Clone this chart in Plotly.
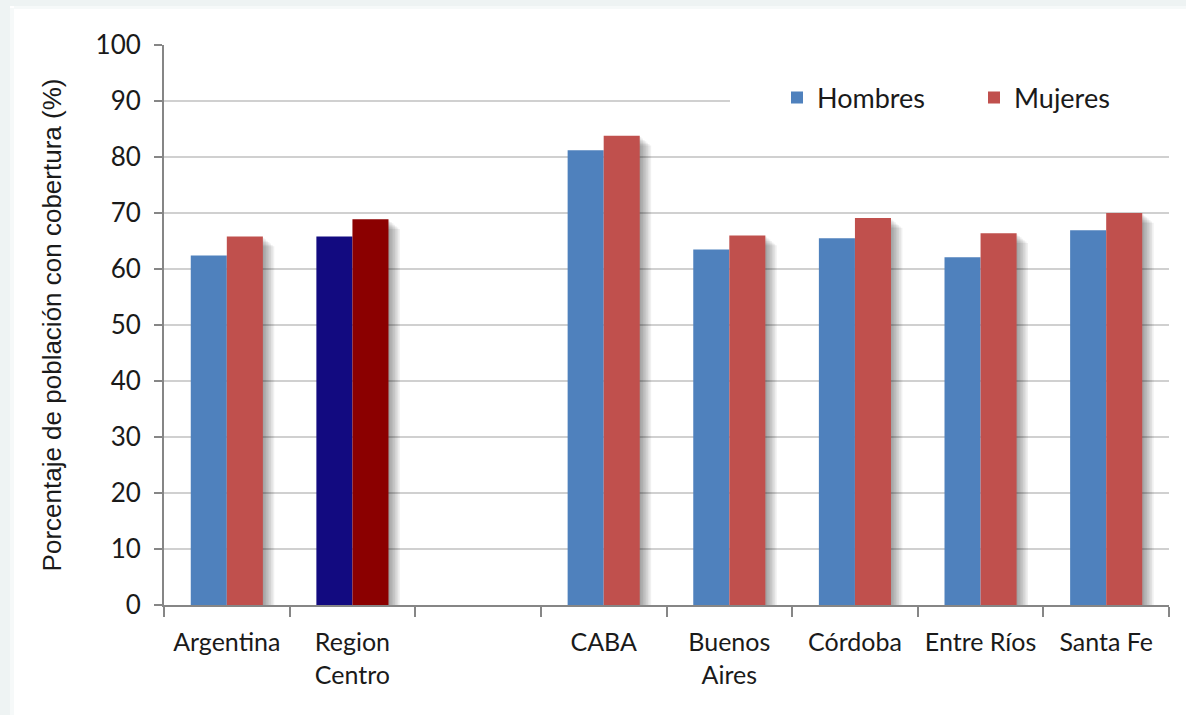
import plotly.graph_objects as go

# Coverage data by jurisdiction
categories = ["Argentina", "Region<br>Centro", " ", "CABA", "Buenos<br>Aires",
              "Córdoba", "Entre Ríos", "Santa Fe"]
hombres = [62.4, 65.8, None, 81.2, 63.5, 65.5, 62.1, 66.9]
mujeres = [65.8, 68.9, None, 83.8, 66.0, 69.1, 66.4, 70.0]

hombres_colors = ["#4f81bd", "#120a80", "#4f81bd", "#4f81bd", "#4f81bd",
                  "#4f81bd", "#4f81bd", "#4f81bd"]
mujeres_colors = ["#c0504d", "#8b0000", "#c0504d", "#c0504d", "#c0504d",
                  "#c0504d", "#c0504d", "#c0504d"]

BAR_W = 0.287
FONT = "Lato"

fig = go.Figure()

# Soft drop shadow to the right of each bar pair (stacked translucent layers)
for k in range(1, 8):
    shadow_vals = [None if v is None else max(v - 0.25 * k, 0) for v in mujeres]
    fig.add_trace(go.Bar(
        x=categories, y=shadow_vals,
        offset=0.03, width=BAR_W - 0.03 + 0.013 * k,
        marker=dict(color="rgba(0,0,0,0.06)", line=dict(width=0)),
        showlegend=False, hoverinfo="skip",
    ))

fig.add_trace(go.Bar(
    x=categories, y=hombres, name="Hombres",
    offset=-BAR_W, width=BAR_W,
    marker=dict(color=hombres_colors, line=dict(width=0)),
))
fig.add_trace(go.Bar(
    x=categories, y=mujeres, name="Mujeres",
    offset=0, width=BAR_W,
    marker=dict(color=mujeres_colors, line=dict(width=0)),
))

L, R, T, B = 164, 17, 45, 110
W, H = 1186, 715
pw, ph = W - L - R, H - T - B

shapes = [
    # Light frame bands on the left and top edges of the page
    dict(type="rect", xref="paper", yref="paper",
         x0=-L / pw, x1=(10 - L) / pw, y0=-B / ph, y1=1 + T / ph,
         fillcolor="#eef3f3", line=dict(width=0), layer="below"),
    dict(type="rect", xref="paper", yref="paper",
         x0=(10 - L) / pw, x1=(14 - L) / pw, y0=-B / ph, y1=1 + (T - 8) / ph,
         fillcolor="#f6f9f9", line=dict(width=0), layer="below"),
    dict(type="rect", xref="paper", yref="paper",
         x0=(10 - L) / pw, x1=1 + R / pw, y0=1 + (T - 6) / ph, y1=1 + T / ph,
         fillcolor="#eef3f3", line=dict(width=0), layer="below"),
    dict(type="rect", xref="paper", yref="paper",
         x0=(14 - L) / pw, x1=1 + R / pw, y0=1 + (T - 9) / ph, y1=1 + (T - 6) / ph,
         fillcolor="#f6f9f9", line=dict(width=0), layer="below"),
    # White legend backing that hides the gridline behind the legend
    dict(type="rect", xref="paper", yref="y",
         x0=(730 - L) / pw, x1=1.0, y0=87.5, y1=94,
         fillcolor="white", line=dict(width=0), layer="above"),
]

fig.update_layout(
    width=W, height=H,
    margin=dict(l=L, r=R, t=T, b=B, autoexpand=False),
    barmode="overlay",
    paper_bgcolor="white",
    plot_bgcolor="white",
    font=dict(family=FONT, size=25, color="#1a1a1a"),
    shapes=shapes,
    legend=dict(
        orientation="h",
        x=(777 - L) / pw, xanchor="left",
        y=1 - (98 - T) / ph, yanchor="middle",
        bgcolor="rgba(255,255,255,0)",
        font=dict(family=FONT, size=27, color="#1a1a1a"),
        entrywidth=152,
        itemwidth=30,
    ),
    xaxis=dict(
        type="category",
        categoryorder="array", categoryarray=categories,
        range=[-0.5, 7.5],
        automargin=False,
        showgrid=False,
        showline=True, linecolor="#868686", linewidth=2,
        ticks="outside", tickson="boundaries", ticklen=10,
        tickcolor="#868686", tickwidth=2,
        tickangle=0,
        tickfont=dict(family=FONT, size=25, color="#1a1a1a"),
        ticklabelstandoff=14,
    ),
    yaxis=dict(
        range=[0, 100], dtick=10,
        automargin=False,
        showgrid=True, gridcolor="#d0d0d0", gridwidth=2,
        showline=True, linecolor="#868686", linewidth=2,
        ticks="outside", ticklen=8, tickcolor="#868686", tickwidth=2,
        tickfont=dict(family=FONT, size=26, color="#1a1a1a"),
        ticklabelstandoff=8,
        zeroline=False,
        title=dict(text="Porcentaje de población con cobertura (%)",
                   font=dict(family="Liberation Sans", size=26, color="#1a1a1a"),
                   standoff=26),
    ),
)

fig.write_html("out.html")
